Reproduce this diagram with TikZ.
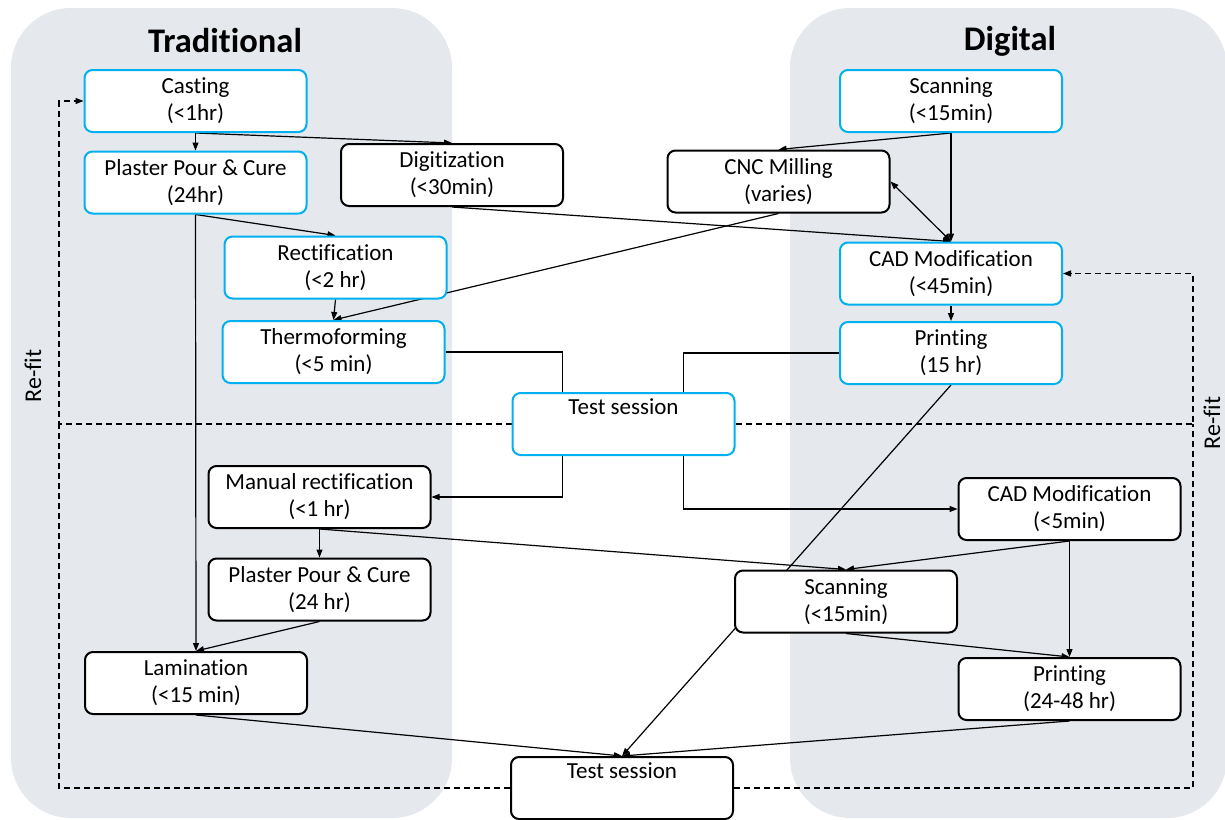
\documentclass[tikz,border=0pt]{standalone}
\usepackage{fontspec}
\setmainfont{Carlito}[Ligatures={NoCommon,NoContextual}]
\usetikzlibrary{arrows.meta}
\pgfdeclarelayer{bg}
\pgfdeclarelayer{mid}
\pgfsetlayers{bg,mid,main}
\definecolor{panel}{RGB}{229,232,237}
\definecolor{cyanb}{RGB}{0,176,240}
\begin{document}
\begin{tikzpicture}[x=1pt,y=-1pt,
  box/.style={draw=black, line width=2pt, rounded corners=8pt, fill=white,
    minimum width=222pt, minimum height=62pt, inner sep=0pt, align=center,
    font=\fontsize{23}{27}\selectfont},
  bbox/.style={box, draw=cyanb},
  conn/.style={line width=1.2pt, -{Triangle[length=8pt,width=6pt]}},
  dconn/.style={line width=1.2pt, {Triangle[length=8pt,width=6pt]}-{Triangle[length=8pt,width=6pt]}},
  lineonly/.style={line width=1.2pt},
  refit/.style={line width=1.2pt, dash pattern=on 6pt off 4pt},
  refitarrow/.style={refit, -{Triangle[length=8pt,width=6pt]}},
  title/.style={font=\bfseries\fontsize{34.5}{40}\selectfont},
  sidelabel/.style={rotate=90, font=\fontsize{24}{28}\selectfont},
]
\useasboundingbox (0,0) rectangle (1225,819);

% panels
\begin{pgfonlayer}{bg}
\fill[panel, rounded corners=60pt] (11,8) rectangle (452,818);
\fill[panel, rounded corners=60pt] (790,8) rectangle (1227,818);
\end{pgfonlayer}

\node[title] (ttrad) at (225,41) {Traditional};
\node[title] (tdig) at (1010,41) {Digital};

% traditional, first round
\node[bbox] (cast) at (195.5,101) {Casting\\(<1hr)};
\node[bbox] (plas1) at (195.5,182.5) {Plaster Pour \& Cure\\(24hr)};
\node[box] (digi) at (452,175) {Digitization\\(<30min)};
\node[bbox] (rect) at (335.5,267.5) {Rectification\\(<2 hr)};
\node[bbox] (therm) at (333.5,352) {Thermoforming\\(<5 min)};

% digital, first round
\node[bbox] (scan1) at (951,101) {Scanning\\(<15min)};
\node[box] (cnc) at (778.5,181.5) {CNC Milling\\(varies)};
\node[bbox] (cad1) at (951,273.5) {CAD Modification\\(<45min)};
\node[bbox] (print1) at (951,353) {Printing\\(15 hr)};

% test sessions
\node[bbox] (test1) at (623.5,424) {Test session\\\strut};
\node[box] (test2) at (622,788) {Test session\\\strut};

% second round
\node[box] (manual) at (319.5,497) {Manual rectification\\(<1 hr)};
\node[box] (plas2) at (319.5,589.5) {Plaster Pour \& Cure\\(24 hr)};
\node[box] (lam) at (196,683) {Lamination\\(<15 min)};
\node[box] (cad2) at (1069.5,509) {CAD Modification\\(<5min)};
\node[box] (scan2) at (846,601.5) {Scanning\\(<15min)};
\node[box] (print2) at (1069.5,689) {Printing\\(24-48 hr)};

% re-fit labels
\node[sidelabel] (refitL) at (33,376) {Re-fit};
\node[sidelabel] (refitR) at (1212,423) {Re-fit};

\coordinate (cL1) at (59,424);
\coordinate (cL2) at (59,788);
\coordinate (cR1) at (1193,424);
\coordinate (cR2) at (1193,788);

\begin{pgfonlayer}{mid}
\draw[conn] (cast.south) -- (plas1.north);
\draw[conn] (cast.south) -- (digi.north);
\draw[conn] (plas1.south) -- (rect.north);
\draw[conn] (plas1.south) -- (lam.north);
\draw[conn] (rect.south) -- (therm.north);
\draw[conn] (cnc.south) -- (therm.north);
\draw[conn] (digi.south) -- (cad1.north);
\draw[conn] (scan1.south) -- (cnc.north);
\draw[conn] (scan1.south) -- (cad1.north);
\draw[dconn] (cnc.east) -- (cad1.north);
\draw[conn] (cad1.south) -- (print1.north);
\draw[lineonly] (therm.east) -| ([xshift=-61pt]test1.north);
\draw[lineonly] (print1.west) -| ([xshift=60pt]test1.north);
\draw[conn] ([xshift=-61pt]test1.south) |- (manual.east);
\draw[conn] ([xshift=60pt]test1.south) |- (cad2.west);
\draw[conn] (print1.south) -- (test2.north);
\draw[conn] (manual.south) -- (plas2.north);
\draw[conn] (manual.south) -- (scan2.north);
\draw[conn] (cad2.south) -- (scan2.north);
\draw[conn] (cad2.south) -- (print2.north);
\draw[conn] (scan2.south) -- (print2.north);
\draw[conn] (plas2.south) -- (lam.north);
\draw[conn] (lam.south) -- (test2.north);
\draw[conn] (print2.south) -- (test2.north);
% re-fit loops
\draw[refitarrow] (test1.west) -- (cL1) |- (cast.west);
\draw[refit] (test2.west) -- (cL2) -- (cL1);
\draw[refitarrow] (test1.east) -- (cR1) |- (cad1.east);
\draw[refit] (test2.east) -- (cR2) -- (cR1);
\end{pgfonlayer}
\end{tikzpicture}
\end{document}
